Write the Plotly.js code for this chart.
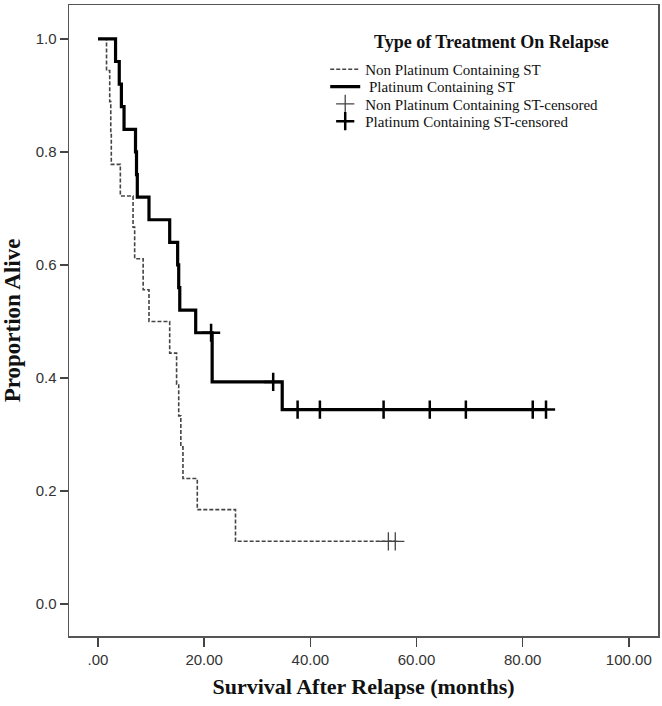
<!DOCTYPE html>
<html>
<head>
<meta charset="utf-8">
<script src="https://cdn.plot.ly/plotly-3.0.1.min.js"></script>
<style>
  html, body { margin: 0; padding: 0; background: #fff; }
  #chart { width: 662px; height: 706px; }
</style>
</head>
<body>
<div id="chart"></div>
<script>
// ---- Data (Kaplan-Meier curves) ----
var seriesNames = ["Non Platinum Containing ST", " Platinum Containing ST",
                   "Non Platinum Containing ST-censored", "Platinum Containing ST-censored"];

// Non platinum containing ST: event times (months) and survival after each event
var nonPlatTimes = [1.6, 2.2, 2.4, 2.5, 4.2, 6.6, 6.9, 8.5, 9.6, 13.5, 14.8, 15.2, 15.6, 16.0, 18.7, 25.9];
var nonPlatSurv  = [0.944, 0.889, 0.833, 0.778, 0.722, 0.667, 0.611, 0.556, 0.500, 0.444, 0.389, 0.333, 0.278, 0.222, 0.167, 0.111];
var nonPlatCensorTimes = [54.7, 56.0];

// Platinum containing ST
var platTimes = [3.3, 4.0, 4.4, 4.9, 7.06, 7.25, 7.4, 9.6, 13.5, 15.0, 15.2, 15.4, 18.4, 21.5, 34.7];
var platSurv  = [0.96, 0.92, 0.88, 0.84, 0.80, 0.76, 0.72, 0.68, 0.64, 0.60, 0.56, 0.52, 0.48, 0.393, 0.344];
var platCensorTimes = [21.3, 33.0, 37.6, 41.8, 53.8, 62.5, 69.3, 81.9, 84.4];

var xTickVals = [0, 20, 40, 60, 80, 100];
var xTickText = [".00", "20.00", "40.00", "60.00", "80.00", "100.00"];
var yTickVals = [0, 0.2, 0.4, 0.6, 0.8, 1.0];
var yTickText = ["0.0", "0.2", "0.4", "0.6", "0.8", "1.0"];

// ---- helpers ----
function survAt(times, surv, t) {
  var s = 1;
  for (var i = 0; i < times.length; i++) { if (times[i] <= t) s = surv[i]; }
  return s;
}
function stepCurve(times, surv, censors) {
  var lastT = Math.max(times[times.length - 1], censors.length ? censors[censors.length - 1] : 0);
  var x = [0].concat(times, [lastT]);
  var y = [1].concat(surv, [surv[surv.length - 1]]);
  return {x: x, y: y};
}

var npStep = stepCurve(nonPlatTimes, nonPlatSurv, nonPlatCensorTimes);
var pStep = stepCurve(platTimes, platSurv, platCensorTimes);

var serif = "'Liberation Serif', 'Times New Roman', serif";
var sans = "'Liberation Sans', Arial, sans-serif";

var traces = [
  {
    x: npStep.x, y: npStep.y, mode: "lines", name: seriesNames[0], legend: "legend",
    line: {shape: "hv", color: "#444", width: 1.6, dash: "4px,2px"}
  },
  {
    x: pStep.x, y: pStep.y, mode: "lines", name: seriesNames[1], legend: "legend2",
    line: {shape: "hv", color: "#000", width: 3.2}
  },
  {
    x: nonPlatCensorTimes,
    y: nonPlatCensorTimes.map(function (t) { return survAt(nonPlatTimes, nonPlatSurv, t); }),
    mode: "markers", name: seriesNames[2], legend: "legend3",
    marker: {symbol: "cross-thin", size: 13, line: {color: "#444", width: 1.3}}
  },
  {
    x: platCensorTimes,
    y: platCensorTimes.map(function (t) { return survAt(platTimes, platSurv, t); }),
    mode: "markers", name: seriesNames[3], legend: "legend4",
    marker: {symbol: "cross-thin", size: 13, line: {color: "#000", width: 2.5}}
  }
];

function legendAt(py) {
  return {
    x: 0.435, y: 1 - (py - 5) / 631, xanchor: "left", yanchor: "middle",
    bgcolor: "rgba(0,0,0,0)", borderwidth: 0,
    font: {family: serif, size: 15, color: "#111"},
    itemwidth: 30, tracegroupgap: 0
  };
}

var layout = {
  width: 662, height: 706,
  margin: {l: 69, r: 4, t: 5, b: 70},
  paper_bgcolor: "#fff", plot_bgcolor: "#fff",
  showlegend: true,
  legend: legendAt(69.5),
  legend2: legendAt(86.8),
  legend3: legendAt(104.1),
  legend4: legendAt(121.4),
  annotations: [{
    text: "<b>Type of Treatment On Relapse</b>",
    xref: "paper", yref: "paper", x: 0.7165, y: 0.941,
    xanchor: "center", yanchor: "middle", showarrow: false,
    font: {family: serif, size: 18, color: "#111"}
  }],
  xaxis: {
    range: [-5.47, 105.5], showgrid: false, zeroline: false,
    tickvals: xTickVals, ticktext: xTickText,
    ticks: "outside", ticklen: 9, tickwidth: 1.5, tickcolor: "#444",
    showline: true, linecolor: "#555", linewidth: 1.5, mirror: true,
    tickfont: {family: sans, size: 15, color: "#333"},
    title: {text: "<b>Survival After Relapse (months)</b>", standoff: 12,
            font: {family: serif, size: 22, color: "#111"}}
  },
  yaxis: {
    range: [-0.0566, 1.060], showgrid: false, zeroline: false,
    tickvals: yTickVals, ticktext: yTickText,
    ticks: "outside", ticklen: 8, tickwidth: 1.5, tickcolor: "#444",
    showline: true, linecolor: "#555", linewidth: 1.5, mirror: true,
    tickfont: {family: sans, size: 15, color: "#333"},
    title: {text: "<b>Proportion Alive</b>", standoff: 8,
            font: {family: serif, size: 23, color: "#111"}}
  }
};

Plotly.newPlot("chart", traces, layout, {displayModeBar: false, staticPlot: true});
</script>
</body>
</html>
